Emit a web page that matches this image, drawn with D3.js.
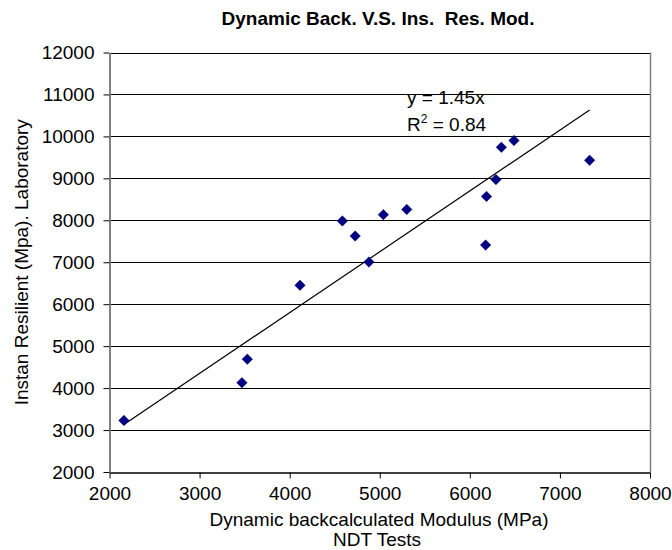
<!DOCTYPE html>
<html>
<head>
<meta charset="utf-8">
<script src="https://cdn.jsdelivr.net/npm/d3@7"></script>
<style>
  html, body { margin: 0; padding: 0; background: #fff; }
  svg { display: block; }
  text { font-family: "Liberation Sans", Arial, sans-serif; fill: #000; }
</style>
</head>
<body>
<svg id="chart" width="672" height="550"></svg>
<script>
// ---- data ----
const titleText = "Dynamic Back. V.S. Ins.\u00A0\u00A0Res. Mod.";
const xLabel1 = "Dynamic backcalculated Modulus (MPa)";
const xLabel2 = "NDT Tests";
const yLabel = "Instan Resilient (Mpa). Laboratory";
const xValues = [2160, 3470, 3530, 4115, 4585, 4727, 4880, 5040, 5300, 6175, 6185, 6290, 6350, 6490, 7330];
const yValues = [3230, 4130, 4690, 6450, 7985, 7625, 7005, 8135, 8260, 7410, 8570, 8970, 9740, 9900, 9430];
const trendSlope = 1.45;
const trendEq = "y = 1.45x";
const trendR2 = "0.84";
const xTicks = [2000, 3000, 4000, 5000, 6000, 7000, 8000];
const yTicks = [2000, 3000, 4000, 5000, 6000, 7000, 8000, 9000, 10000, 11000, 12000];

// ---- layout ----
const svg = d3.select("#chart");
const L = 109.5, R = 650, T = 52.5, B = 472;
const x = d3.scaleLinear().domain([2000, 8000]).range([L, R]);
const y = d3.scaleLinear().domain([2000, 12000]).range([B, T]);
const FS = 19;

// gridlines
svg.append("g").selectAll("line").data(yTicks.filter(d => d > 2000)).join("line")
  .attr("x1", L).attr("x2", R)
  .attr("y1", d => Math.round(y(d)) + 0.5).attr("y2", d => Math.round(y(d)) + 0.5)
  .attr("stroke", "#000").attr("stroke-width", 1);

// right border
svg.append("line").attr("x1", R + 0.5).attr("x2", R + 0.5).attr("y1", T).attr("y2", B)
  .attr("stroke", "#808080").attr("stroke-width", 1.5);

// x axis
const xAxis = svg.append("g").attr("transform", `translate(0,${Math.round(B) + 0.5})`)
  .call(d3.axisBottom(x).tickValues(xTicks).tickFormat(d3.format("d")).tickSize(6).tickPadding(8).tickSizeOuter(0));
xAxis.select(".domain").attr("stroke", "#000").attr("stroke-width", 1.5);
xAxis.selectAll(".tick line").attr("stroke", "#000").attr("stroke-width", 1);
xAxis.selectAll(".tick text").attr("font-size", FS).attr("font-family", "Liberation Sans, Arial, sans-serif").attr("fill", "#000");

// y axis
const yAxis = svg.append("g").attr("transform", `translate(${L},0)`)
  .call(d3.axisLeft(y).tickValues(yTicks).tickFormat(d3.format("d")).tickSize(6).tickPadding(9).tickSizeOuter(0));
yAxis.select(".domain").attr("stroke", "#808080").attr("stroke-width", 2);
yAxis.selectAll(".tick line").attr("stroke", "#000").attr("stroke-width", 1);
yAxis.selectAll(".tick text").attr("font-size", FS).attr("font-family", "Liberation Sans, Arial, sans-serif").attr("fill", "#000");

// trendline
const xMin = d3.min(xValues), xMax = d3.max(xValues);
svg.append("line")
  .attr("x1", x(xMin)).attr("y1", y(trendSlope * xMin))
  .attr("x2", x(xMax)).attr("y2", y(trendSlope * xMax))
  .attr("stroke", "#000").attr("stroke-width", 1.2);

// points
const pts = xValues.map((v, i) => ({ x: v, y: yValues[i] }));
svg.append("g").selectAll("path").data(pts).join("path")
  .attr("d", d3.symbol(d3.symbolDiamond2, 70))
  .attr("transform", d => `translate(${x(d.x)},${y(d.y)})`)
  .attr("fill", "#000080").attr("stroke", "#000080").attr("stroke-width", 0.5);

// trend annotation
svg.append("text").attr("x", 407).attr("y", 104).attr("font-size", FS).text(trendEq);
const r2 = svg.append("text").attr("x", 407).attr("y", 131).attr("font-size", FS);
r2.append("tspan").text("R");
r2.append("tspan").attr("font-size", 12).attr("dy", -8).text("2");
r2.append("tspan").attr("dy", 8).text(" = " + trendR2);

// title
svg.append("text").attr("x", 378).attr("y", 25).attr("text-anchor", "middle")
  .attr("font-size", 19).attr("font-weight", "bold").style("white-space", "pre").text(titleText);

// axis labels
svg.append("text").attr("x", 379).attr("y", 526).attr("text-anchor", "middle").attr("font-size", FS).text(xLabel1);
svg.append("text").attr("x", 377).attr("y", 546).attr("text-anchor", "middle").attr("font-size", FS).text(xLabel2);
svg.append("text").attr("transform", `translate(28,${(T + B) / 2}) rotate(-90)`)
  .attr("text-anchor", "middle").attr("font-size", FS).text(yLabel);
</script>
</body>
</html>
